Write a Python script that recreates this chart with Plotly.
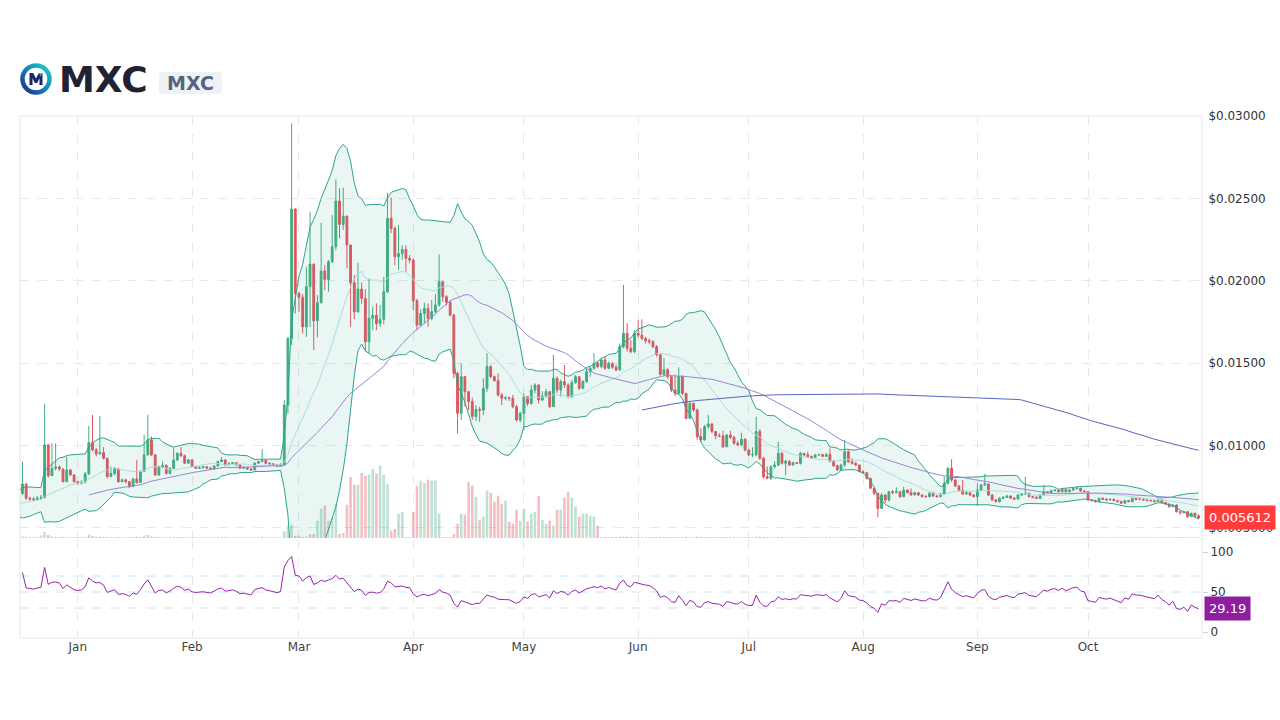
import base64
import numpy as np
import pandas as pd
import plotly.graph_objects as go

# ---------------- DATA (prices in units of 1e-5 USD) ----------------
# Closes before the visible window (2023-11-16 .. 2023-12-16), only used by the indicators
hist_close_e5 = [640, 652, 630, 618, 625, 610, 598, 605, 622, 640, 635,
                 628, 615, 602, 590, 598, 612, 605, 620, 648, 662, 655, 640, 630, 645, 668, 690, 675, 700, 728, 710]

# Visible daily candles: 2023-12-17 .. 2024-10-31
close_e5 = [
    # Dec 17-31
    767, 680, 676, 672, 680, 685, 1004, 818, 862, 870, 858, 781, 852, 822, 781,
    # Jan
    771, 778, 828, 1018, 974, 950, 957, 923, 812, 830, 858, 781, 792, 781, 751, 797, 776, 842, 943, 1034,
    943, 822, 872, 880, 830, 862, 913, 953, 938, 893, 913,
    # Feb
    872, 862, 865, 872, 862, 858, 876, 903, 913, 883, 888, 896, 883, 862, 866, 858, 852, 893, 903, 909,
    893, 889, 883, 876, 883, 1246, 1650, 2435, 1923,
    # Mar
    1900, 1720, 1964, 2101, 1757, 1867, 2059, 2008, 2116, 2207, 2484, 2342, 2393, 2217, 1988, 1812, 1950, 1893,
    1630, 1772, 1790, 1741, 1766, 1934, 2379, 2318, 2146, 2165, 2190, 2136, 2126,
    # Apr
    1879, 1731, 1802, 1832, 1772, 1812, 1853, 1994, 1903, 1870, 1792, 1438, 1196, 1418, 1327, 1267, 1176, 1220,
    1215, 1347, 1479, 1418, 1394, 1307, 1287, 1290, 1286, 1236, 1155, 1195,
    # May
    1297, 1256, 1337, 1368, 1277, 1300, 1327, 1236, 1408, 1337, 1388, 1368, 1297, 1382, 1418, 1347, 1388, 1449,
    1469, 1499, 1479, 1519, 1469, 1499, 1475, 1459, 1600, 1681, 1590, 1570, 1681,
    # Jun
    1670, 1650, 1636, 1630, 1600, 1550, 1432, 1460, 1418, 1337, 1317, 1418, 1317, 1165, 1256, 1216, 1054, 1034,
    1115, 1131, 1085, 1060, 1058, 993, 1064, 1050, 1014, 1004, 1038, 973,
    # Jul
    943, 945, 1085, 923, 811, 801, 872, 882, 953, 892, 905, 882, 896, 892, 953, 943, 933, 928, 943, 945,
    935, 945, 905, 878, 852, 882, 963, 902, 892, 882, 842,
    # Aug
    835, 801, 741, 710, 619, 700, 670, 720, 715, 720, 690, 730, 715, 700, 714, 700, 690, 690, 710, 694,
    690, 706, 771, 862, 791, 755, 730, 706, 714, 700, 690,
    # Sep
    730, 761, 767, 700, 670, 660, 680, 686, 694, 680, 675, 700, 706, 710, 690, 686, 680, 700, 720, 714,
    726, 730, 720, 734, 720, 730, 738, 741, 724, 720,
    # Oct
    670, 666, 660, 680, 674, 670, 674, 666, 660, 650, 666, 660, 680, 674, 674, 670, 666, 665, 660, 670,
    654, 645, 629, 639, 599, 593, 599, 569, 589, 573, 561.2,
]

high_e5 = [
    # Dec 17-31
    903, 770, 690, 688, 695, 700, 1253, 1010, 1014, 1014, 880, 860, 933, 856, 825,
    # Jan
    785, 790, 840, 1119, 1186, 985, 1180, 990, 913, 872, 870, 862, 800, 798, 785, 805, 913, 850, 1065, 1186,
    1055, 950, 880, 903, 885, 868, 984, 958, 990, 945, 918,
    # Feb
    915, 878, 875, 878, 875, 872, 880, 908, 929, 915, 900, 900, 898, 885, 875, 868, 862, 898, 908, 978,
    912, 898, 893, 889, 893, 1276, 1660, 2955, 2440,
    # Mar
    1935, 1920, 2085, 2419, 2105, 1913, 2352, 2095, 2126, 2399, 2615, 2561, 2565, 2389, 2217, 2035, 2109, 1990,
    1950, 2014, 1843, 1863, 1853, 2025, 2534, 2506, 2330, 2338, 2215, 2215, 2156,
    # Apr
    2136, 1890, 1827, 1867, 1862, 1883, 1919, 2160, 2000, 1913, 1880, 1800, 1448, 1499, 1423, 1330, 1290, 1245,
    1235, 1408, 1560, 1489, 1425, 1438, 1320, 1300, 1298, 1307, 1246, 1205,
    # May
    1317, 1300, 1368, 1378, 1357, 1330, 1345, 1330, 1550, 1420, 1400, 1489, 1378, 1398, 1428, 1418, 1398, 1469,
    1479, 1560, 1510, 1530, 1540, 1510, 1505, 1490, 1620, 1975, 1742, 1640, 1700,
    # Jun
    1760, 1766, 1660, 1650, 1640, 1610, 1560, 1530, 1470, 1425, 1430, 1475, 1425, 1320, 1270, 1260, 1225, 1105,
    1125, 1186, 1135, 1085, 1075, 1090, 1070, 1090, 1058, 1030, 1078, 1045,
    # Jul
    980, 990, 1175, 1100, 930, 872, 880, 905, 1024, 962, 915, 910, 902, 900, 963, 955, 963, 940, 950, 952,
    950, 955, 983, 912, 885, 890, 1034, 975, 923, 900, 885,
    # Aug
    850, 840, 805, 745, 712, 712, 705, 725, 730, 747, 725, 751, 735, 740, 720, 718, 705, 700, 716, 720,
    700, 712, 811, 868, 917, 795, 760, 791, 725, 718, 706,
    # Sep
    771, 766, 828, 770, 705, 675, 686, 692, 700, 698, 688, 705, 712, 811, 714, 695, 692, 705, 761, 724,
    732, 736, 734, 740, 738, 735, 742, 751, 744, 730,
    # Oct
    724, 676, 672, 684, 685, 680, 678, 678, 670, 664, 670, 670, 684, 684, 680, 680, 674, 672, 668, 674,
    672, 658, 650, 645, 642, 605, 604, 602, 592, 592, 584,
]

low_e5 = [
    # Dec 17-31
    700, 670, 665, 662, 668, 670, 680, 805, 815, 850, 845, 775, 778, 815, 775,
    # Jan
    762, 765, 770, 822, 965, 935, 945, 915, 800, 808, 820, 775, 778, 770, 741, 748, 770, 772, 838, 940,
    935, 815, 815, 865, 825, 825, 858, 905, 930, 888, 890,
    # Feb
    868, 858, 858, 862, 858, 852, 855, 872, 900, 878, 880, 885, 878, 858, 860, 852, 846, 850, 888, 898,
    888, 883, 876, 872, 876, 880, 1195, 1610, 1802,
    # Mar
    1812, 1680, 1660, 1720, 1580, 1656, 1862, 1943, 1934, 2106, 2186, 2257, 2308, 2075, 1721, 1766, 1806, 1860,
    1570, 1560, 1700, 1700, 1720, 1735, 1924, 2290, 2095, 2065, 2126, 2055, 2106,
    # Apr
    1822, 1700, 1720, 1741, 1721, 1760, 1800, 1843, 1873, 1850, 1782, 1407, 1074, 1155, 1236, 1215, 1155, 1150,
    1145, 1185, 1327, 1408, 1388, 1297, 1246, 1275, 1270, 1226, 1145, 1140,
    # May
    1095, 1240, 1246, 1317, 1256, 1270, 1290, 1226, 1236, 1320, 1297, 1350, 1287, 1290, 1375, 1337, 1345, 1380,
    1418, 1460, 1470, 1470, 1459, 1465, 1465, 1450, 1455, 1590, 1570, 1560, 1560,
    # Jun
    1655, 1640, 1620, 1615, 1590, 1540, 1425, 1420, 1405, 1325, 1300, 1310, 1305, 1160, 1160, 1205, 1035, 1020,
    1030, 1100, 1075, 1040, 1050, 985, 990, 1040, 1005, 995, 1000, 965,
    # Jul
    935, 930, 935, 912, 800, 795, 790, 860, 875, 885, 820, 875, 878, 888, 885, 935, 925, 920, 925, 938,
    930, 930, 898, 870, 845, 845, 872, 895, 885, 875, 838,
    # Aug
    828, 795, 735, 700, 565, 615, 650, 660, 705, 708, 682, 685, 708, 695, 698, 694, 684, 682, 686, 688,
    684, 686, 700, 765, 780, 748, 722, 700, 700, 694, 684,
    # Sep
    633, 725, 755, 694, 664, 654, 655, 675, 682, 676, 670, 672, 695, 700, 686, 680, 676, 678, 696, 708,
    710, 722, 716, 716, 716, 716, 726, 734, 720, 716,
    # Oct
    664, 660, 654, 658, 670, 665, 666, 662, 655, 645, 648, 655, 656, 670, 668, 664, 662, 660, 655, 658,
    650, 640, 622, 626, 594, 580, 588, 560, 575, 568, 552,
]

# Daily volume (millions of MXC)
volume_m = [
    # Dec 17-31
    1.5, 1.2, 0.8, 0.8, 1.0, 2.5, 6.0, 3.0, 1.5, 1.2, 1.0, 1.2, 0.9, 0.8, 0.8,
    # Jan
    0.8, 0.9, 1.2, 3.5, 2.0, 1.2, 1.5, 1.0, 1.2, 0.8, 0.8, 1.0, 0.7, 0.7, 0.8, 0.9, 1.2, 1.0, 2.5, 3.0,
    1.5, 1.2, 0.9, 0.8, 0.8, 0.8, 1.2, 1.0, 0.9, 0.8, 0.8,
    # Feb
    0.8, 0.7, 0.7, 0.7, 0.7, 0.7, 0.8, 1.0, 0.9, 0.8, 0.7, 0.7, 0.7, 0.7, 0.7, 0.7, 0.7, 0.9, 0.8, 1.2,
    0.8, 0.7, 0.7, 0.7, 0.7, 6.7, 12.3, 13.3, 2.3,
    # Mar
    2.3, 1.0, 1.7, 4.0, 4.0, 17.3, 29.3, 32.3, 17.3, 20.0, 34.3, 4.0, 5.0, 33.3, 61.0, 53.3, 53.3, 65.0,
    62.3, 63.3, 69.0, 64.3, 72.3, 63.3, 54.3, 7.3, 9.0, 24.3, 26.3, 1.0, 1.0,
    # Apr
    26.3, 52.3, 57.3, 55.0, 58.3, 57.3, 57.3, 24.3, 1.0, 1.0, 1.0, 4.0, 14.3, 24.3, 23.3, 56.0, 52.3, 41.3,
    18.3, 21.3, 47.3, 45.3, 36.3, 42.3, 34.3, 37.3, 16.3, 14.3, 28.3, 17.3,
    # May
    29.3, 16.3, 24.3, 26.3, 42.3, 18.3, 14.3, 17.3, 12.3, 28.3, 28.3, 40.3, 46.3, 40.3, 31.3, 21.3, 24.3, 24.3,
    22.3, 21.3, 12.3, 1.0, 1.0, 1.0, 1.0, 1.0, 1.2, 1.5, 1.2, 1.0, 1.0,
    # Jun
    0.9, 0.8, 0.8, 0.9, 0.8, 1.0, 1.2, 1.0, 0.9, 1.0, 0.9, 1.1, 0.9, 1.2, 1.0, 0.8, 1.2, 1.1, 0.9, 1.0,
    0.8, 0.8, 0.8, 0.9, 0.9, 0.8, 0.8, 0.8, 0.9, 0.9,
    # Jul
    0.8, 0.8, 1.5, 1.2, 1.0, 0.9, 0.9, 0.8, 1.0, 0.9, 0.8, 0.8, 0.8, 0.7, 0.9, 0.8, 0.8, 0.7, 0.7, 0.7,
    0.7, 0.7, 0.9, 0.8, 0.8, 0.8, 1.2, 1.0, 0.8, 0.8, 0.8,
    # Aug
    0.8, 0.9, 1.0, 0.9, 1.4, 1.0, 0.9, 0.8, 0.8, 0.8, 0.8, 0.8, 0.7, 0.7, 0.7, 0.7, 0.7, 0.7, 0.7, 0.7,
    0.7, 0.7, 1.2, 1.5, 1.2, 0.9, 0.8, 0.8, 0.7, 0.7, 0.7,
    # Sep
    1.0, 0.9, 1.0, 0.9, 0.8, 0.7, 0.7, 0.7, 0.7, 0.7, 0.7, 0.7, 0.7, 1.0, 0.8, 0.7, 0.7, 0.7, 0.9, 0.7,
    0.7, 0.7, 0.7, 0.7, 0.7, 0.7, 0.7, 0.8, 0.7, 0.7,
    # Oct
    0.9, 0.8, 0.7, 0.7, 0.7, 0.7, 0.7, 0.7, 0.7, 0.7, 0.7, 0.7, 0.7, 0.7, 0.7, 0.7, 0.7, 0.7, 0.7, 0.7,
    0.7, 0.7, 0.8, 0.7, 0.9, 0.8, 0.7, 0.8, 0.7, 0.8, 0.7,
]

price_ticks = [0.005, 0.010, 0.015, 0.020, 0.025, 0.030]
price_tick_text = ["$" + ("%#.4g" % v) for v in price_ticks]
rsi_ticks = [0, 50, 100]
rsi_levels = [30, 50, 70]
last_rsi_label = "29.19"

# ---------------- PREP ----------------
n_vis = len(close_e5)
assert len(high_e5) == n_vis and len(low_e5) == n_vis and len(volume_m) == n_vis, \
    (len(close_e5), len(high_e5), len(low_e5), len(volume_m))
all_dates = pd.date_range("2023-11-16", periods=len(hist_close_e5) + n_vis, freq="D")
vis_dates = all_dates[len(hist_close_e5):]
assert str(vis_dates[-1].date()) == "2024-10-31", vis_dates[-1]

s_all = pd.Series(np.array(hist_close_e5 + close_e5, dtype=float) / 1e5, index=all_dates)
close = np.array(close_e5, dtype=float) / 1e5
opens = s_all.shift(1).loc[vis_dates].values
high = np.maximum.reduce([np.array(high_e5, dtype=float) / 1e5, opens, close])
low = np.minimum.reduce([np.array(low_e5, dtype=float) / 1e5, opens, close])

# indicators
mid20 = s_all.rolling(20).mean()
sd20 = s_all.rolling(20).std(ddof=0)
bb_up = mid20 + 2 * sd20
bb_lo = mid20 - 2 * sd20
ma50 = s_all.rolling(50).mean()
ma200 = s_all.rolling(200).mean()
delta = s_all.diff()
gain = delta.clip(lower=0).ewm(alpha=1 / 14, adjust=False).mean()
loss = (-delta.clip(upper=0)).ewm(alpha=1 / 14, adjust=False).mean()
rsi = 100 - 100 / (1 + gain / loss)

GREEN = "#43ad7e"
RED = "#e4545f"
vol_colors = ["rgba(67,173,126,0.35)" if c >= o else "rgba(228,84,95,0.38)" for o, c in zip(opens, close)]

# pixel helpers for the page furniture (plot area 20..1202 x 116..638)
def px_x(p):
    return (p - 20) / 1182.0

def px_y(p):
    return (638 - p) / 522.0

fig = go.Figure()

fig.add_trace(go.Bar(x=vis_dates, y=volume_m, marker=dict(color=vol_colors, line=dict(width=0)),
                     xaxis="x", yaxis="y", hoverinfo="skip", showlegend=False))

fig.add_trace(go.Scatter(x=all_dates, y=bb_up, mode="lines", line=dict(color="#2aa58e", width=1),
                         xaxis="x", yaxis="y2", hoverinfo="skip", showlegend=False))
fig.add_trace(go.Scatter(x=all_dates, y=bb_lo, mode="lines", line=dict(color="#2aa58e", width=1),
                         fill="tonexty", fillcolor="rgba(42,165,142,0.10)",
                         xaxis="x", yaxis="y2", hoverinfo="skip", showlegend=False))
fig.add_trace(go.Scatter(x=all_dates, y=mid20, mode="lines", line=dict(color="#aadfd6", width=1),
                         xaxis="x", yaxis="y2", hoverinfo="skip", showlegend=False))
fig.add_trace(go.Scatter(x=all_dates, y=ma50, mode="lines", line=dict(color="#9b85d6", width=1),
                         xaxis="x", yaxis="y2", hoverinfo="skip", showlegend=False))
fig.add_trace(go.Scatter(x=all_dates, y=ma200, mode="lines", line=dict(color="#5866c2", width=1),
                         xaxis="x", yaxis="y2", hoverinfo="skip", showlegend=False))

fig.add_trace(go.Candlestick(x=vis_dates, open=opens, high=high, low=low, close=close,
                             increasing=dict(line=dict(color=GREEN, width=1), fillcolor=GREEN),
                             decreasing=dict(line=dict(color=RED, width=1), fillcolor=RED),
                             xaxis="x", yaxis="y2", hoverinfo="skip", showlegend=False))

rsi_vis = rsi.loc[vis_dates]
fig.add_trace(go.Scatter(x=vis_dates, y=rsi_vis, mode="lines", line=dict(color="#9426a6", width=1),
                         xaxis="x", yaxis="y3", hoverinfo="skip", showlegend=False))

grid = "#e8e8e8"
fig.update_layout(
    width=1280, height=720,
    margin=dict(l=20, r=78, t=116, b=82, autoexpand=False),
    paper_bgcolor="white", plot_bgcolor="white",
    font=dict(family="DejaVu Sans", size=12, color="#333333"),
    showlegend=False, bargap=0.3,
    xaxis=dict(type="date", anchor="y3", range=["2023-12-16 08:00", "2024-10-31 22:00"],
               tickformat="%b", dtick="M1", tick0="2024-01-01",
               showgrid=True, gridcolor=grid, griddash="dash", gridwidth=1,
               zeroline=False, showline=False, ticks="", automargin=False,
               tickfont=dict(size=12, color="#444444"),
               rangeslider=dict(visible=False)),
    yaxis=dict(domain=[px_y(538), 1], range=[0, 422], visible=False, showgrid=False,
               anchor="x", fixedrange=True, automargin=False),
    yaxis2=dict(overlaying="y", side="right", anchor="x", range=[0.00439, 0.030],
                tickvals=price_ticks, ticktext=price_tick_text, automargin=False,
                showgrid=True, gridcolor=grid, griddash="dash", zeroline=False, showline=False,
                ticks="outside", ticklen=3, tickcolor="rgba(0,0,0,0)",
                tickfont=dict(size=12, color="#333333")),
    yaxis3=dict(domain=[0, px_y(540)], range=[-7.5, 115], side="right", anchor="x",
                tickvals=rsi_ticks, showgrid=False, zeroline=False, showline=False, automargin=False,
                ticks="outside", ticklen=5, tickcolor="#cfcfcf",
                tickfont=dict(size=12, color="#333333")),
)

shapes = [dict(type="rect", xref="paper", yref="paper", x0=0, x1=1, y0=0, y1=1,
               line=dict(color="#e6e6e6", width=1), layer="below")]
for lv in rsi_levels:
    shapes.append(dict(type="line", xref="paper", yref="y3", x0=0, x1=1, y0=lv, y1=lv,
                       line=dict(color="#c4e6f4", width=1, dash="dash"), layer="below"))

def rounded_rect(px0, py0, px1, py1, r):
    rx, ry = r / 1182.0, r / 522.0
    X0, X1, Y0, Y1 = px_x(px0), px_x(px1), px_y(py1), px_y(py0)
    return (f"M {X0+rx} {Y0} L {X1-rx} {Y0} Q {X1} {Y0} {X1} {Y0+ry} L {X1} {Y1-ry} "
            f"Q {X1} {Y1} {X1-rx} {Y1} L {X0+rx} {Y1} Q {X0} {Y1} {X0} {Y1-ry} "
            f"L {X0} {Y0+ry} Q {X0} {Y0} {X0+rx} {Y0} Z")

shapes.append(dict(type="path", xref="paper", yref="paper", path=rounded_rect(159, 72, 222, 94, 4),
                   fillcolor="#eef1f5", line=dict(width=0)))
fig.update_layout(shapes=shapes)

logo_svg = """<svg xmlns='http://www.w3.org/2000/svg' width='64' height='64' viewBox='0 0 64 64'>
<defs><linearGradient id='g' x1='1' y1='0' x2='0' y2='1'>
<stop offset='0' stop-color='#16d6c6'/><stop offset='0.55' stop-color='#1a76b8'/><stop offset='1' stop-color='#1c2f86'/>
</linearGradient></defs>
<circle cx='32' cy='32' r='27' fill='white' stroke='url(#g)' stroke-width='9'/>
<path d='M19 44 V20 H26.5 L32 31 L37.5 20 H45 V44 H39 V30.5 L34.2 40 H29.8 L25 30.5 V44 Z' fill='#18296b'/>
<path d='M37.5 20 H45 L41 27 Z' fill='#16c7c0'/>
</svg>"""
logo_uri = "data:image/svg+xml;base64," + base64.b64encode(logo_svg.encode()).decode()
fig.add_layout_image(dict(source=logo_uri, xref="paper", yref="paper",
                          x=px_x(20), y=px_y(63), sizex=32 / 1182.0, sizey=32 / 522.0,
                          xanchor="left", yanchor="top", sizing="stretch", layer="above"))

last_close = close[-1]
fig.add_annotation(xref="paper", yref="paper", x=px_x(57), y=px_y(79), xanchor="left", yanchor="middle",
                   text="MXC", showarrow=False,
                   font=dict(family="DejaVu Sans", size=36, color="#1f2233", weight="bold"))
fig.add_annotation(xref="paper", yref="paper", x=px_x(190.5), y=px_y(83), xanchor="center", yanchor="middle",
                   text="MXC", showarrow=False,
                   font=dict(family="DejaVu Sans", size=19, color="#56647f", weight="bold"))
fig.add_annotation(xref="paper", yref="y2", x=1, y=last_close, xanchor="left", yanchor="middle",
                   xshift=2, text=f"{last_close:.6f}", showarrow=False, bgcolor="#ff3b3b",
                   borderpad=4, font=dict(family="DejaVu Sans", size=13, color="white"))
fig.add_annotation(xref="paper", yref="y3", x=1, y=float(last_rsi_label), xanchor="left", yanchor="middle",
                   xshift=2, text=last_rsi_label, showarrow=False, bgcolor="#8e1d9f",
                   borderpad=4, font=dict(family="DejaVu Sans", size=13, color="white"))

fig.write_html("out.html")
